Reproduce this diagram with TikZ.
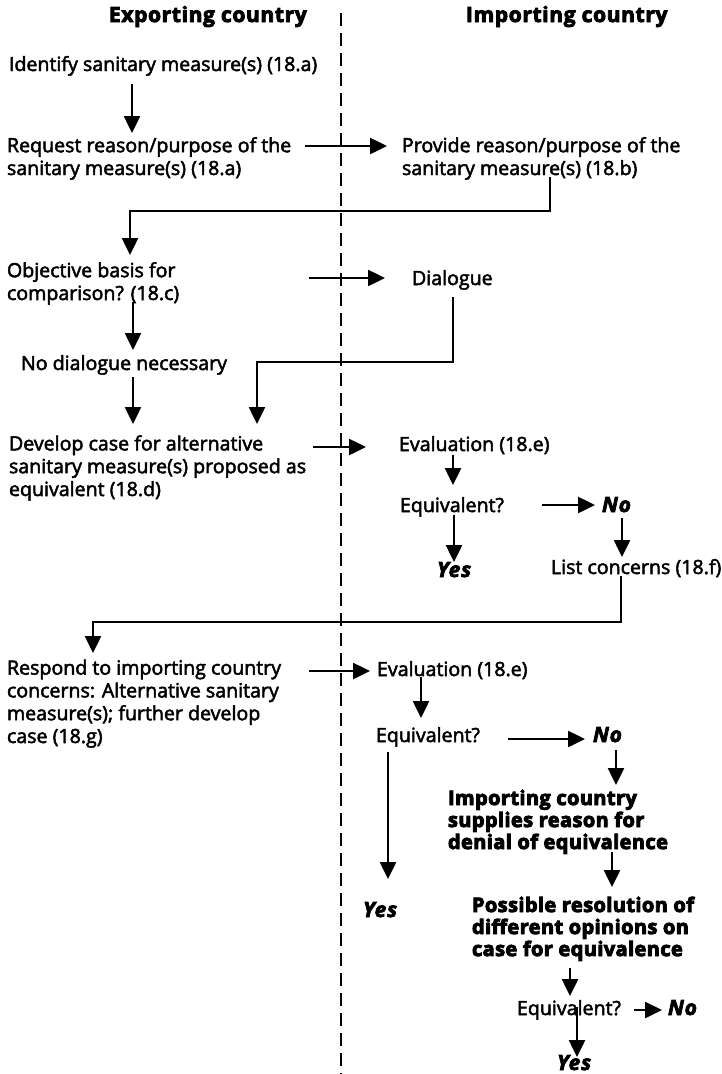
\documentclass[tikz,border=0pt]{standalone}
\usepackage{fontspec}
\setmainfont{Open Sans}[UprightFeatures={FakeBold=2.5}]
\newfontfamily\heavyfont{Open Sans}[BoldFeatures={FakeBold=4.5,LetterSpace=2}]
\newfontfamily\headfont{Open Sans}[BoldFeatures={FakeBold=4,LetterSpace=3}]
\newfontfamily\ynfont{Open Sans}[BoldItalicFeatures={FakeBold=3.5,LetterSpace=4}]
\usetikzlibrary{arrows.meta,calc}
\begin{document}
\begin{tikzpicture}[x=1pt,y=-1pt,
  txt/.style={anchor=base west, inner sep=0pt, outer sep=0pt, align=left, font=\fontsize{19.6}{22.8}\selectfont},
  head/.style={txt, font=\fontsize{21}{23}\selectfont\headfont\bfseries},
  yn/.style={txt, font=\fontsize{21}{23}\selectfont\ynfont\bfseries\itshape},
  heavy/.style={txt, font=\fontsize{20}{22}\selectfont\heavyfont\bfseries},
  arr/.style={line width=2.5pt, -{Triangle[length=17pt,width=16pt]}},
  divider/.style={line width=1.6pt, dash pattern=on 13pt off 7pt}]
\useasboundingbox (0,0) rectangle (721,1074);
\draw[divider] (341,13) -- (341,1074);

\node[head] (hexp) at (109,22) {Exporting country};
\node[head] (himp) at (466,22) {Importing country};

\node[txt] (n1) at (9,71) {Identify sanitary measure(s) (18.a)};
\node[txt] (n2) at (7,175) {Request reason/purpose of the\\sanitary measure(s) (18.a)};
\node[txt] (n3) at (402,175) {Provide reason/purpose of the\\sanitary measure(s) (18.b)};
\node[txt] (n4) at (7,300) {Objective basis for\\comparison? (18.c)};
\node[txt] (n5) at (412,285) {Dialogue};
\node[txt] (n6) at (21,370) {No dialogue necessary};
\node[txt] (n7) at (9,496) {Develop case for alternative\\sanitary measure(s) proposed as\\equivalent (18.d)};
\node[txt] (n8) at (399,451) {Evaluation (18.e)};
\node[txt] (n9) at (400,512) {Equivalent?};
\node[yn] (n10) at (602,512) {No};
\node[yn] (n11) at (437,577) {Yes};
\node[txt] (n12) at (551,574) {List concerns (18.f)};
\node[txt] (n13) at (7,743) {Respond to importing country\\concerns: Alternative sanitary\\measure(s); further develop\\case (18.g)};
\node[txt] (n14) at (377,676) {Evaluation (18.e)};
\node[txt] (n15) at (376,742) {Equivalent?};
\node[yn] (n16) at (593,742) {No};
\node[yn] (n17) at (363,917) {Yes};
\node[heavy] (n18) at (448,849) {Importing country\\supplies reason for\\denial of equivalence};
\node[heavy] (n19) at (472,956) {Possible resolution of\\different opinions on\\case for equivalence};
\node[txt] (n20) at (517,1015) {Equivalent?};
\node[yn] (n21) at (668,1015) {No};
\node[yn] (n22) at (557,1070) {Yes};

\draw[arr] ($(n1.base west)+(123,13)$) -- ($(n2.base west)+(125,-42)$);
\draw[arr] ($(n2.base west)+(298,-29)$) -- ($(n3.base west)+(-15,-29)$);
\draw[arr] ($(n3.base west)+(148,2)$) -- ++(0,34) -| ($(n4.base west)+(123,-45)$);
\draw[arr] ($(n4.base west)+(302,-22)$) -- ($(n5.base west)+(-27,-7)$);
\draw[arr] ($(n4.base west)+(126,2)$) -- ($(n6.base west)+(112,-20)$);
\draw[arr] ($(n5.base west)+(41,12)$) -- ++(0,65) -| ($(n7.base west)+(248,-72)$);
\draw[arr] ($(n6.base west)+(112,7)$) -- ($(n7.base west)+(124,-72)$);
\draw[arr] ($(n7.base west)+(304,-49)$) -- ($(n8.base west)+(-33,-4)$);
\draw[arr] ($(n8.base west)+(54,4)$) -- ($(n9.base west)+(53,-27)$);
\draw[arr] ($(n9.base west)+(142,-7)$) -- ($(n10.base west)+(-7,-7)$);
\draw[arr] ($(n9.base west)+(54,3)$) -- ($(n11.base west)+(17,-15)$);
\draw[arr] ($(n10.base west)+(20,6)$) -- ($(n12.base west)+(71,-17)$);
\draw[arr] ($(n12.base west)+(70,2)$) -- ++(0,46) -| ($(n13.base west)+(86,-90)$);
\draw[arr] ($(n13.base west)+(302,-72)$) -- ($(n14.base west)+(-7,-5)$);
\draw[arr] ($(n14.base west)+(44,1)$) -- ($(n15.base west)+(45,-24)$);
\draw[arr] ($(n15.base west)+(132,-3)$) -- ($(n16.base west)+(-8,-3)$);
\draw[arr] ($(n16.base west)+(23,8)$) -- ($(n18.base west)+(168,-64)$);
\draw[arr] ($(n15.base west)+(12,10)$) -- ($(n17.base west)+(25,-38)$);
\draw[arr] ($(n18.base west)+(164,3)$) -- ($(n19.base west)+(140,-69)$);
\draw[arr] ($(n19.base west)+(98,12)$) -- ($(n20.base west)+(53,-19)$);
\draw[arr] ($(n20.base west)+(117,-5)$) -- ($(n21.base west)+(-6,-5)$);
\draw[arr] ($(n20.base west)+(60,-8)$) -- ($(n22.base west)+(20,-13)$);
\end{tikzpicture}
\end{document}
